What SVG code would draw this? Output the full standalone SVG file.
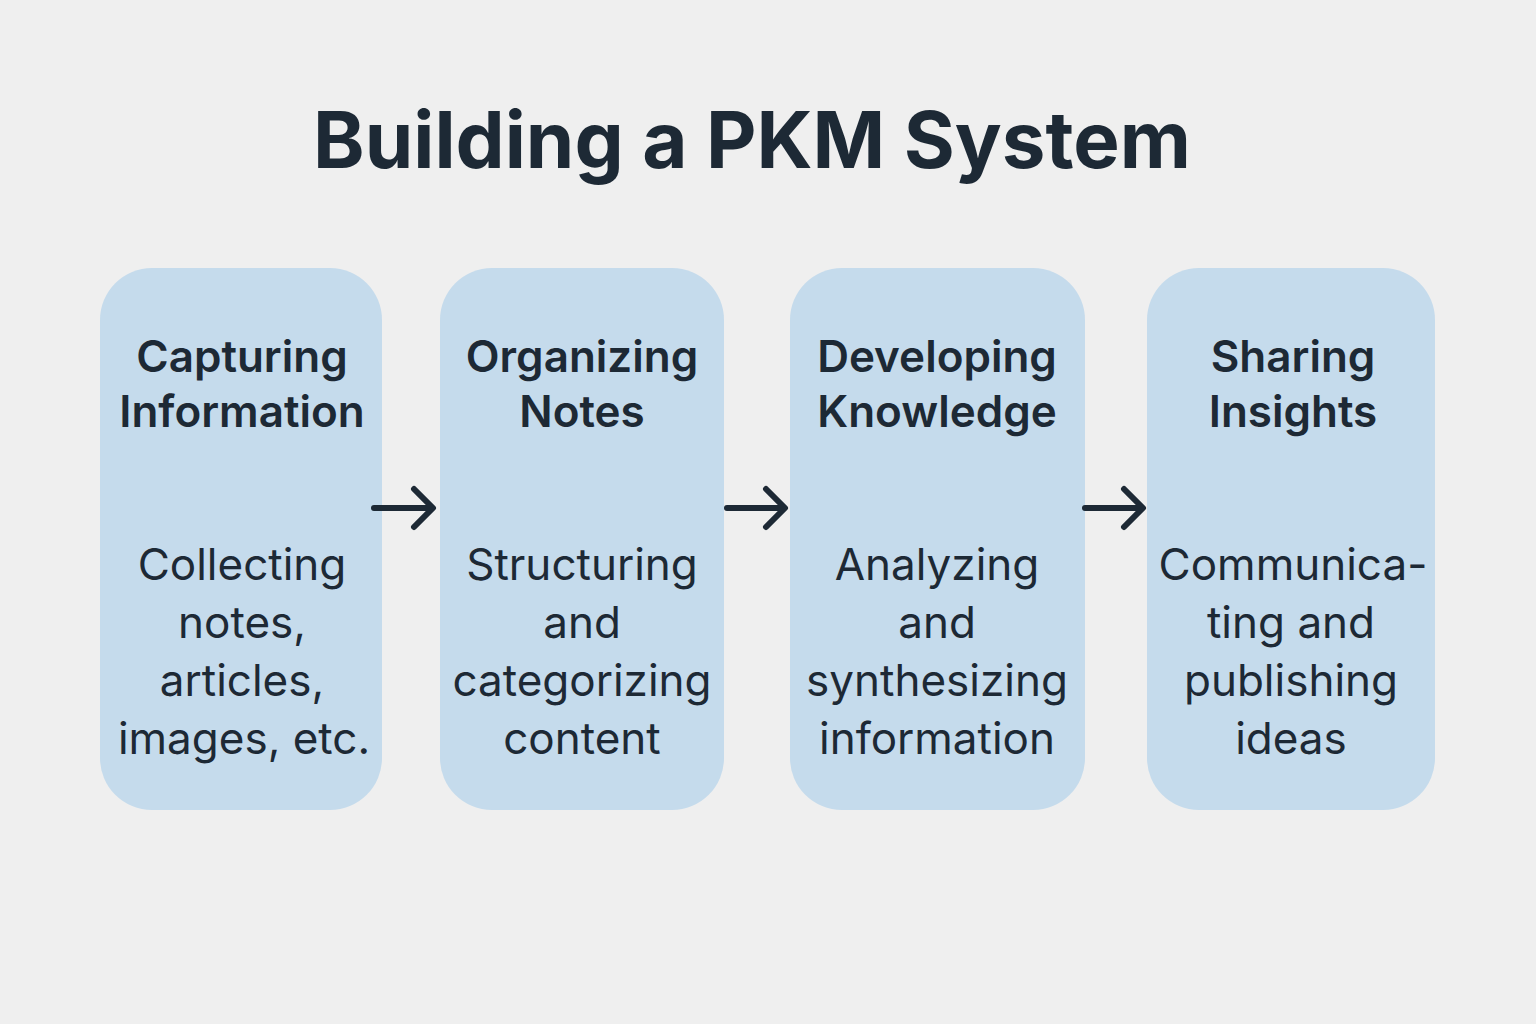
<svg xmlns="http://www.w3.org/2000/svg" width="1536" height="1024" viewBox="0 0 1536 1024">
<style>
.box{fill:#c5dbec}
.t{font-family:Inter,"Liberation Sans",sans-serif;fill:#1d2935;text-anchor:middle}
.h{font-size:44px;font-weight:600}
.b{font-size:44px;font-weight:400}
.a{stroke:#1d2935;stroke-width:6;fill:none;stroke-linecap:round;stroke-linejoin:round}
</style>
<rect width="1536" height="1024" fill="#efefef"/>
<text class="t" x="752" y="168" font-size="78" font-weight="700">Building a PKM System</text>
<g id="n1"><rect class="box" x="100" y="268" width="282" height="542" rx="52"/>
<text class="t h" x="242" y="372">Capturing</text><text class="t h" x="242" y="427">Information</text>
<text class="t b" x="242" y="580">Collecting</text><text class="t b" x="242" y="638">notes,</text><text class="t b" x="242" y="696">articles,</text><text class="t b" x="244" y="754">images, etc.</text></g>
<g id="n2"><rect class="box" x="440" y="268" width="284" height="542" rx="52"/>
<text class="t h" x="582" y="372">Organizing</text><text class="t h" x="582" y="427">Notes</text>
<text class="t b" x="582" y="580">Structuring</text><text class="t b" x="582" y="638">and</text><text class="t b" x="582" y="696">categorizing</text><text class="t b" x="582" y="754">content</text></g>
<g id="n3"><rect class="box" x="790" y="268" width="295" height="542" rx="52"/>
<text class="t h" x="937" y="372">Developing</text><text class="t h" x="937" y="427">Knowledge</text>
<text class="t b" x="937" y="580">Analyzing</text><text class="t b" x="937" y="638">and</text><text class="t b" x="937" y="696">synthesizing</text><text class="t b" x="937" y="754">information</text></g>
<g id="n4"><rect class="box" x="1147" y="268" width="288" height="542" rx="52"/>
<text class="t h" x="1293" y="372">Sharing</text><text class="t h" x="1293" y="427">Insights</text>
<text class="t b" x="1293" y="580">Communica-</text><text class="t b" x="1291" y="638">ting and</text><text class="t b" x="1291" y="696">publishing</text><text class="t b" x="1291" y="754">ideas</text></g>
<g id="connectors">
<path class="a" d="M374 508H432M414 489L433 508L414 527"/>
<path class="a" d="M727 508H784M766 489L785 508L766 527"/>
<path class="a" d="M1085 508H1142M1124 489L1143 508L1124 527"/>
</g>
</svg>
